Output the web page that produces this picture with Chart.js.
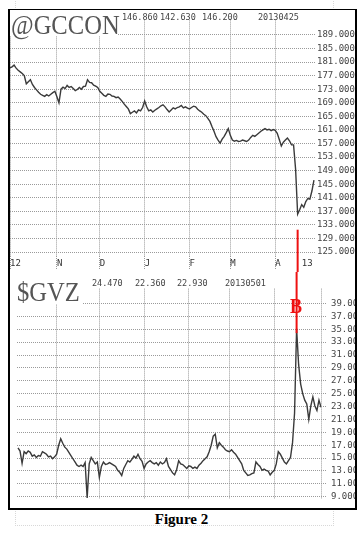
<!DOCTYPE html>
<html>
<head>
<meta charset="utf-8">
<script src="https://cdn.jsdelivr.net/npm/chart.js@4.4.1/dist/chart.umd.min.js"></script>
<style>
html, body { margin: 0; padding: 0; background: #fff; }
body { width: 359px; height: 534px; position: relative; overflow: hidden; }
#ghost { position: absolute; left: 15px; top: -2px; width: 317px; height: 527px; border: 1px dotted #d8d8d8; border-top: none; }
#frame { position: absolute; left: 8px; top: 9px; width: 345px; height: 498px; border-style: solid; border-color: #000; border-width: 1px 2px 2px 2px; background: #fff; }
canvas { position: absolute; }
#top { left: 10px; top: 10px; }
#bot { left: 10px; top: 272px; }
.mask { position: absolute; background: #fff; }
.sym { position: absolute; font-family: "Liberation Serif", serif; font-size: 27px; line-height: 29px; color: #555; transform: scaleX(0.91); transform-origin: left top; white-space: nowrap; }
.num { position: absolute; font-family: "DejaVu Sans Mono", monospace; font-size: 8.5px; line-height: 10px; color: #444; white-space: nowrap; }
#mark { position: absolute; left: 290px; top: 295px; font: bold 22px/22px "Liberation Serif", serif; color: #ee1111; transform: scaleX(0.82); transform-origin: left top; }
#fig { position: absolute; left: 2px; top: 512px; width: 359px; text-align: center; font: bold 15px/15px "Liberation Serif", serif; color: #000; }
</style>
</head>
<body>
<div id="ghost"></div>
<div id="frame"></div>
<canvas id="top" width="345" height="262"></canvas>
<canvas id="bot" width="345" height="236"></canvas>

<div class="mask" style="left:10px;top:10px;width:108px;height:26px"></div>
<div class="mask" style="left:118px;top:10px;width:198px;height:10px"></div>
<div class="sym" style="left:11px;top:11px">@GCCON</div>
<div class="num" style="left:122px;top:12px">146.860</div>
<div class="num" style="left:160px;top:12px">142.630</div>
<div class="num" style="left:202px;top:12px">146.200</div>
<div class="num" style="left:258px;top:12px">20130425</div>

<div class="mask" style="left:10px;top:272px;width:280px;height:16px"></div>
<div class="mask" style="left:302px;top:272px;width:20px;height:16px"></div>
<div class="mask" style="left:10px;top:272px;width:73px;height:32px"></div>
<div class="sym" style="left:17px;top:278px">$GVZ</div>
<div class="num" style="left:92px;top:278px">24.470</div>
<div class="num" style="left:135px;top:278px">22.360</div>
<div class="num" style="left:177px;top:278px">22.930</div>
<div class="num" style="left:225px;top:278px">20130501</div>

<div id="mark">B</div>
<div id="fig">Figure 2</div>

<script>
// daily closes, one per trading day (Oct 2012 - Apr 2013)
var gcconClose = [
  179.3, 179.6, 180.1, 179.2, 178.6, 178.1, 177.6, 177.0, 174.6, 175.2,
  175.8, 174.4, 173.5, 172.8, 172.1, 171.5, 171.2, 170.9, 171.4, 171.0,
  171.5, 172.0, 172.4, 170.8, 169.0, 173.0, 173.6, 173.2, 174.1, 173.5,
  173.8, 173.2, 172.6, 172.9, 173.5, 173.0, 173.8, 173.9, 175.8, 175.0,
  174.9, 174.2, 173.9, 173.5, 172.4, 171.8, 171.2, 170.9, 171.6, 171.5,
  171.0, 170.9, 170.5, 170.7, 170.1, 169.4, 168.6, 167.9, 167.2, 165.8,
  166.2, 166.6, 166.0, 166.9, 166.6, 167.6, 169.5, 167.8, 166.6, 166.9,
  166.3, 166.8, 167.2, 167.6, 168.1, 168.4, 167.8, 167.0, 166.3, 166.9,
  167.5, 167.2, 167.6, 167.8, 168.2, 167.5, 167.8, 167.4, 167.2, 167.6,
  168.0, 167.8, 167.1, 166.6, 166.2, 165.6, 165.2, 164.4, 163.5, 162.0,
  160.6, 159.0, 158.0, 157.1, 158.3, 159.1, 160.2, 161.4, 159.4, 158.0,
  157.7, 157.9, 157.6, 157.7, 158.0, 157.8, 157.6, 158.0, 158.8, 159.4,
  159.1, 159.6, 160.1, 160.6, 161.0, 161.4, 161.0, 161.2, 160.8, 161.1,
  160.9, 160.0, 158.2, 156.3, 157.4, 158.0, 158.6, 157.8, 156.6, 156.6,
  149.4, 136.2, 137.5, 139.0, 138.2, 139.9, 140.8, 140.6, 143.0, 146.2
];

// GVZ starts a few bars later and runs to 2013-05-01
var gvzStart = 4;
var gvzClose = [
  16.6, 16.1, 14.2, 16.0, 15.7, 16.1,
  15.9, 15.3, 15.5, 15.1, 15.4, 15.3, 16.0, 15.8, 15.6, 15.2,
  15.3, 14.9, 15.2, 15.6, 17.0, 18.0, 17.3, 16.7, 16.4, 15.9,
  15.4, 14.9, 14.4, 13.9, 13.7, 13.9, 13.7, 14.3, 8.8, 14.1,
  15.1, 14.6, 14.1, 14.4, 12.0, 13.7, 14.4, 14.0, 14.1, 14.3,
  14.1, 13.9, 13.7, 13.1, 12.8, 12.3, 13.4, 14.0, 14.6, 14.4,
  14.8, 15.3, 15.0, 15.6, 14.9, 14.5, 13.4, 14.1, 14.4, 14.6,
  14.3, 14.1, 14.3, 13.9, 14.4, 14.1, 14.3, 14.9, 13.7, 13.2,
  12.7, 12.4, 13.2, 14.6, 14.1, 14.0, 13.7, 13.4, 13.8, 13.7,
  13.4, 13.6, 13.4, 13.9, 14.2, 14.6, 14.9, 15.2, 16.0, 17.0,
  18.4, 18.7, 16.6, 17.4, 17.0, 16.7, 16.3, 16.1, 16.0, 16.3,
  15.9, 15.6, 15.1, 14.6, 14.1, 13.1, 12.7, 12.3, 12.4, 12.6,
  12.7, 14.4, 14.0, 13.7, 13.1, 13.3, 13.1, 13.0, 12.4, 12.8,
  13.1, 14.1, 16.0, 15.6, 15.0, 14.4, 14.1, 14.6, 15.1, 17.4,
  22.0, 35.1, 29.5, 26.5, 25.0, 24.0, 23.4, 21.0, 23.1, 24.5,
  23.1, 22.4, 24.0, 22.9
];

var xTickIndex = [0, 23, 44, 66, 88, 108, 130, 143];
var xTickLabels = ['12', 'N', 'D', 'J', 'F', 'M', 'A', '13'];
var gcconTicks = [125, 129, 133, 137, 141, 145, 149, 153, 157, 161, 165, 169, 173, 177, 181, 185, 189];
var gvzTicks = [9, 11, 13, 15, 17, 19, 21, 23, 25, 27, 29, 31, 33, 35, 37, 39];

// the crash day marked "B"
var markIndex = 141;
var markTopGC = 131.6;
var markBottomGVZ = 34.4;

var gridColor = '#9a9a9a';
var lineColor = '#3a3a3a';
var mono = { family: 'DejaVu Sans Mono', size: 9 };

function toPoints(arr, start) {
    return arr.map(function(v, i) { return { x: i + start, y: v }; });
}

function markerLine(fromTop) {
    return {
        id: 'markerLine',
        afterDatasetsDraw: function(chart) {
            var ctx = chart.ctx;
            var x = chart.scales.x.getPixelForValue(markIndex);
            var y1, y2;
            if (fromTop) {
                y1 = 0;
                y2 = chart.scales.y.getPixelForValue(markBottomGVZ);
            } else {
                y1 = chart.scales.y.getPixelForValue(markTopGC);
                y2 = chart.height;
            }
            ctx.save();
            ctx.strokeStyle = '#ee1111';
            ctx.lineWidth = 2;
            ctx.beginPath();
            ctx.moveTo(x, y1);
            ctx.lineTo(x, y2);
            ctx.stroke();
            ctx.restore();
        }
    };
}

// "13" has a label but no grid line
function monthGrid(c) {
    return c.tick && c.tick.value === 143 ? 'rgba(0,0,0,0)' : gridColor;
}

new Chart(document.getElementById('top'), {
    type: 'line',
    data: {
        datasets: [{
            data: toPoints(gcconClose, 0),
            borderColor: lineColor,
            borderWidth: 1.4,
            pointRadius: 0,
            tension: 0
        }]
    },
    options: {
        responsive: false,
        animation: false,
        devicePixelRatio: 1,
        layout: { padding: 0 },
        plugins: { legend: { display: false }, tooltip: { enabled: false } },
        scales: {
            x: {
                type: 'linear', min: 0, max: 150,
                afterBuildTicks: function(s) { s.ticks = xTickIndex.map(function(v) { return { value: v }; }); },
                afterFit: function(s) { s.height = 16; },
                grid: { color: monthGrid, tickColor: monthGrid, drawTicks: true, tickLength: 14, tickBorderDash: [1, 1] },
                border: { display: false, dash: [1, 1] },
                ticks: {
                    autoSkip: false, maxRotation: 0, align: 'start', padding: -12,
                    color: '#333', font: mono,
                    callback: function(v) { return xTickLabels[xTickIndex.indexOf(v)]; }
                }
            },
            y: {
                position: 'right', min: 123.85, max: 194.45,
                afterBuildTicks: function(s) { s.ticks = gcconTicks.map(function(v) { return { value: v }; }); },
                afterFit: function(s) { s.width = 39; },
                grid: { color: gridColor, drawTicks: false },
                border: { display: false, dash: [1, 1] },
                ticks: { padding: 1, color: '#444', font: mono, callback: function(v) { return v.toFixed(3); } }
            }
        }
    },
    plugins: [markerLine(false)]
});

new Chart(document.getElementById('bot'), {
    type: 'line',
    data: {
        datasets: [{
            data: toPoints(gvzClose, gvzStart),
            borderColor: lineColor,
            borderWidth: 1.4,
            pointRadius: 0,
            tension: 0
        }]
    },
    options: {
        responsive: false,
        animation: false,
        devicePixelRatio: 1,
        layout: { padding: { left: 7 } },
        plugins: { legend: { display: false }, tooltip: { enabled: false } },
        scales: {
            x: {
                type: 'linear', min: 3.5, max: 153,
                afterBuildTicks: function(s) {
                    s.ticks = xTickIndex.slice(1, 7).concat([153]).map(function(v) { return { value: v }; });
                },
                afterFit: function(s) { s.height = 0; },
                grid: { color: gridColor, drawTicks: false },
                border: { display: false, dash: [1, 1] },
                ticks: { display: false }
            },
            y: {
                position: 'right', min: 8.714, max: 42.43,
                afterBuildTicks: function(s) { s.ticks = gvzTicks.map(function(v) { return { value: v }; }); },
                afterFit: function(s) { s.width = 34; },
                grid: { color: gridColor, drawTicks: true, tickLength: 6, tickColor: gridColor, tickBorderDash: [1, 1] },
                border: { display: false, dash: [1, 1] },
                ticks: { padding: 4, color: '#444', font: mono, callback: function(v) { return v.toFixed(3); } }
            }
        }
    },
    plugins: [markerLine(true)]
});
</script>
</body>
</html>
